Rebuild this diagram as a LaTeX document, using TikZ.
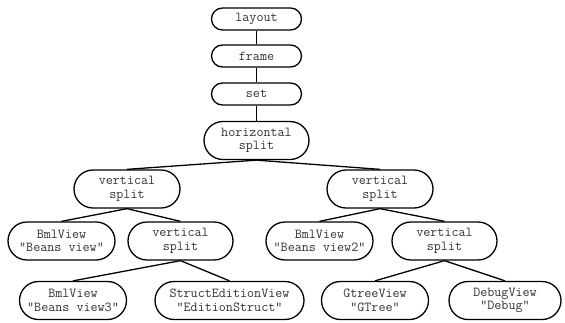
\documentclass[tikz,border=0pt]{standalone}
\begin{document}
\begin{tikzpicture}[x=1pt,y=-1pt,
  box/.style={draw=black,line width=1.3pt,rounded corners=11pt,minimum height=22pt,
     font=\ttfamily\fontsize{13.7}{13.5}\selectfont,align=center,inner sep=0pt,text=black!80},
  tbox/.style={box,rounded corners=19pt,minimum height=38pt},
  edge/.style={line width=1.3pt}]
\useasboundingbox (0,0) rectangle (565,322);
\node[box,minimum width=90pt] (layout) at (256.5,19) {layout};
\node[box,minimum width=90pt] (frame) at (256.5,56) {frame};
\node[box,minimum width=90pt] (set) at (256.5,94) {set};
\node[tbox,minimum width=105pt] (hs) at (256.5,140.5) {horizontal\\split};
\node[tbox,minimum width=106pt] (vl) at (127,189) {vertical\\split};
\node[tbox,minimum width=106pt] (vr) at (380,189) {vertical\\split};
\node[tbox,minimum width=107pt] (b1) at (61.5,241) {BmlView\\"Beans view"};
\node[tbox,minimum width=105pt] (vll) at (180.5,241) {vertical\\split};
\node[tbox,minimum width=107pt] (b2) at (319.5,241) {BmlView\\"Beans view2"};
\node[tbox,minimum width=105pt] (vlr) at (444.5,241) {vertical\\split};
\node[tbox,minimum width=107pt] (b3) at (73,300.5) {BmlView\\"Beans view3"};
\node[tbox,minimum width=149pt] (sev) at (229.5,300.5) {StructEditionView\\"EditionStruct"};
\node[tbox,minimum width=107pt] (gt) at (375,300.5) {GtreeView\\"GTree"};
\node[tbox,minimum width=112pt] (dv) at (505,300.5) {DebugView\\"Debug"};
\draw[edge] (layout.south) -- (frame.north);
\draw[edge] (frame.south) -- (set.north);
\draw[edge] (set.south) -- (hs.north);
\draw[edge] (hs.south) -- (vl.north);
\draw[edge] (hs.south) -- (vr.north);
\draw[edge] (vl.south) -- (b1.north);
\draw[edge] (vl.south) -- (vll.north);
\draw[edge] (vr.south) -- (b2.north);
\draw[edge] (vr.south) -- (vlr.north);
\draw[edge] (vll.south) -- (b3.north);
\draw[edge] (vll.south) -- (sev.north);
\draw[edge] (vlr.south) -- (gt.north);
\draw[edge] (vlr.south) -- (dv.north);
\end{tikzpicture}
\end{document}
